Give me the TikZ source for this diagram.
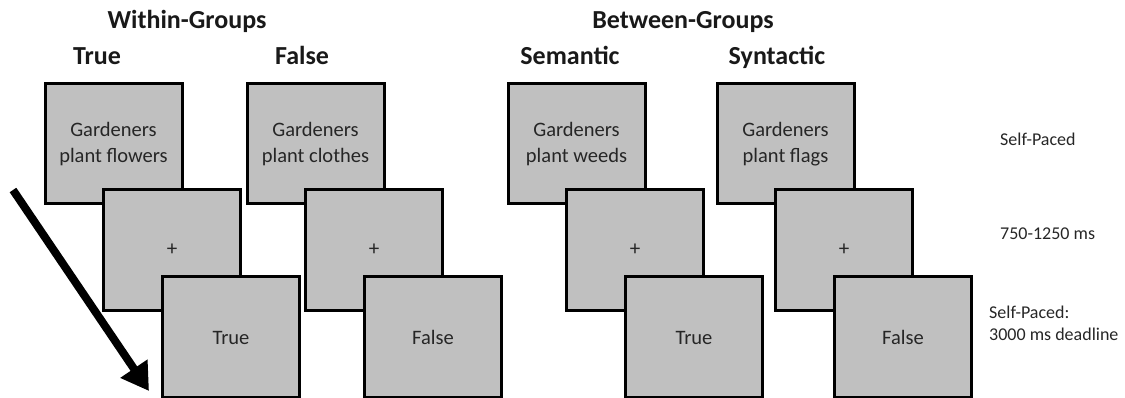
\documentclass[tikz,border=0pt]{standalone}
\usepackage{fontspec}
\setmainfont{Carlito}
\usetikzlibrary{arrows.meta}
\begin{document}
\begin{tikzpicture}[x=1pt,y=-1pt,
  screen/.style={draw=black, fill=screengray, line width=3pt, minimum width=137pt,
    minimum height=120pt, inner sep=0pt, align=center, font=\fontsize{20.5}{26}\selectfont, text=black!85},
  fixation/.style={screen, font=\fontsize{21}{24}\selectfont},
  response/.style={screen, text height=14pt, text depth=0pt},
  heading/.style={font=\bfseries\fontsize{26}{30}\selectfont, text=black!90, anchor=base, inner sep=0pt},
  timing/.style={font=\fontsize{18}{22}\selectfont, text=black!85, align=left, anchor=base west, inner sep=0pt}]
\definecolor{screengray}{HTML}{C0C0C0}
\useasboundingbox (0,0) rectangle (1125,398);

% group headings
\node[heading] (within) at (187,29) {Within-Groups};
\node[heading] (between) at (683,29) {Between-Groups};
\node[heading] (htrue) at (97,65) {True};
\node[heading] (hfalse) at (302,65) {False};
\node[heading] (hsem) at (570,65) {Semantic};
\node[heading] (hsyn) at (777,65) {Syntactic};

% trial sequences: sentence, fixation cross, response
\foreach \L/\sent/\resp/\id in {45/{Gardeners\\plant flowers}/True/a,
                                 247/{Gardeners\\plant clothes}/False/b,
                                 508/{Gardeners\\plant weeds}/True/c,
                                 717/{Gardeners\\plant flags}/False/d}{
  \node[screen] (s\id) at (\L+68.5,144) {\sent};
  \node[fixation] (f\id) at (\L+127,250) {+};
  \node[response] (r\id) at (\L+186,337) {\resp};
}

% timing labels
\node[timing] (t1) at (1000,146) {Self-Paced};
\node[timing] (t2) at (1000,240) {750-1250 ms};
\node[timing] (t3) at (989,340) {Self-Paced:\\3000 ms deadline};

% time arrow
\coordinate (astart) at (13,190);
\coordinate (aend) at (149,391);
\draw[line width=8pt, -{Triangle[length=27pt,width=31pt]}] (astart) -- (aend);
\end{tikzpicture}
\end{document}
